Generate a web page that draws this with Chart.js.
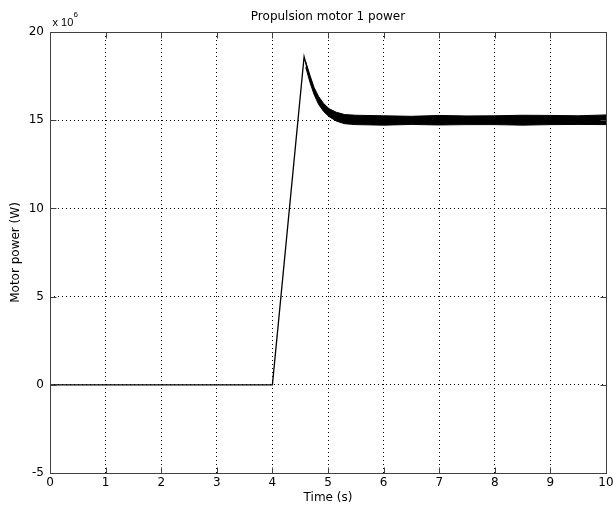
<!DOCTYPE html>
<html>
<head>
<meta charset="utf-8">
<script src="https://cdn.jsdelivr.net/npm/chart.js@4.4.1/dist/chart.umd.min.js"></script>
<style>
  html, body { margin: 0; padding: 0; background: #fff; }
  #wrap { width: 613px; height: 512px; }
</style>
</head>
<body>
<div id="wrap"><canvas id="myChart"></canvas></div>
<script>
// values, power in units of 1e6 W
var timeMain  = [0, 4.0, 4.57, 4.62, 4.68, 4.75, 4.83, 4.92, 5.02, 5.15, 5.3, 5.5, 10];
var powerMain = [0, 0, 18.6, 18.0, 17.3, 16.6, 16.1, 15.7, 15.4, 15.2, 15.05, 15.0, 15.0];

// noisy band around the settled power
var bandTime  = [4.6, 4.68, 4.75, 4.83, 4.92, 5.02, 5.15, 5.3, 5.5, 6, 6.5, 7, 7.5, 8, 8.5, 9, 9.5, 10];
var bandUpper = [18.3, 17.5, 16.85, 16.35, 15.95, 15.65, 15.45, 15.32, 15.28, 15.25, 15.22, 15.27, 15.24, 15.25, 15.28, 15.27, 15.25, 15.3];
var bandLower = [18.0, 17.1, 16.45, 15.9, 15.5, 15.2, 14.95, 14.8, 14.75, 14.72, 14.76, 14.73, 14.75, 14.75, 14.72, 14.75, 14.76, 14.75];

var xTicks = [0, 1, 2, 3, 4, 5, 6, 7, 8, 9, 10];
var yTicks = [-5, 0, 5, 10, 15, 20];

function pts(xs, ys) {
    return xs.map(function (x, i) { return {x: x, y: ys[i]}; });
}

const boxPlugin = {
    id: 'boxPlugin',
    afterDraw(chart) {
        const ctx = chart.ctx;
        const a = chart.chartArea;
        const xs = chart.scales.x, ys = chart.scales.y;
        const L = Math.round(a.left) + 0.5, R = Math.round(a.right) + 0.5;
        const T = Math.round(a.top) + 0.5, B = Math.round(a.bottom) + 0.5;
        ctx.save();
        ctx.strokeStyle = '#404040';
        ctx.lineWidth = 1;
        ctx.strokeRect(L, T, R - L, B - T);
        ctx.beginPath();
        xTicks.forEach(function (v) {
            const px = Math.round(xs.getPixelForValue(v)) + 0.5;
            ctx.moveTo(px, B); ctx.lineTo(px, B - 6);
            ctx.moveTo(px, T); ctx.lineTo(px, T + 6);
        });
        yTicks.forEach(function (v) {
            const py = Math.round(ys.getPixelForValue(v)) + 0.5;
            ctx.moveTo(L, py); ctx.lineTo(L + 6, py);
            ctx.moveTo(R, py); ctx.lineTo(R - 6, py);
        });
        ctx.stroke();
        // exponent label
        ctx.fillStyle = '#000';
        ctx.textBaseline = 'alphabetic';
        ctx.textAlign = 'left';
        ctx.font = '11px "Liberation Sans", Arial, sans-serif';
        ctx.fillText('x 10', L + 2, 26);
        ctx.font = '8px "Liberation Sans", Arial, sans-serif';
        ctx.fillText('6', L + 23, 17);
        ctx.restore();
    }
};

const config = {
    type: 'line',
    data: {
        datasets: [
            {
                data: pts(timeMain, powerMain),
                borderColor: '#000',
                borderWidth: 1.3,
                pointRadius: 0,
                tension: 0,
                fill: false
            },
            {
                data: pts(bandTime, bandUpper),
                borderColor: '#000',
                borderWidth: 1,
                pointRadius: 0,
                tension: 0,
                fill: false
            },
            {
                data: pts(bandTime, bandLower),
                borderColor: '#000',
                backgroundColor: '#000',
                borderWidth: 1,
                pointRadius: 0,
                tension: 0,
                fill: '-1'
            }
        ]
    },
    options: {
        responsive: true,
        maintainAspectRatio: false,
        animation: false,
        layout: { padding: { left: 0, right: 7, top: 0, bottom: 0 } },
        plugins: {
            legend: { display: false },
            tooltip: { enabled: false },
            title: {
                display: true,
                text: 'Propulsion motor 1 power',
                fullSize: false,
                color: '#000',
                font: { family: 'DejaVu Sans', size: 12, weight: 'normal', lineHeight: 1.2 },
                padding: { top: 10, bottom: 7.6 }
            }
        },
        scales: {
            x: {
                type: 'linear',
                min: 0, max: 10,
                afterFit: function (s) { s.height = 39; s.paddingLeft = 0; s.paddingRight = 0; },
                afterBuildTicks: function (s) { s.ticks = xTicks.map(function (v) { return {value: v}; }); },
                grid: { color: '#000', drawTicks: false },
                border: { display: false, dash: [1, 3] },
                ticks: { color: '#000', padding: 3, maxRotation: 0, font: { family: 'DejaVu Sans', size: 12 } },
                title: {
                    display: true, text: 'Time (s)', color: '#000',
                    font: { family: 'DejaVu Sans', size: 12, lineHeight: 1.2 },
                    padding: { top: 0, bottom: 7 }
                }
            },
            y: {
                type: 'linear',
                min: -5, max: 20,
                afterFit: function (s) { s.width = 50; s.paddingTop = 0; s.paddingBottom = 0; },
                afterBuildTicks: function (s) { s.ticks = yTicks.map(function (v) { return {value: v}; }); },
                grid: { color: '#000', drawTicks: false },
                border: { display: false, dash: [1, 3] },
                ticks: { color: '#000', padding: 6, font: { family: 'DejaVu Sans', size: 12 } },
                title: {
                    display: true, text: 'Motor power (W)', color: '#000',
                    font: { family: 'DejaVu Sans', size: 12, lineHeight: 1.2 },
                    padding: { top: 8.5, bottom: 0 }
                }
            }
        }
    },
    plugins: [boxPlugin]
};

const myChart = new Chart(document.getElementById('myChart'), config);
</script>
</body>
</html>
